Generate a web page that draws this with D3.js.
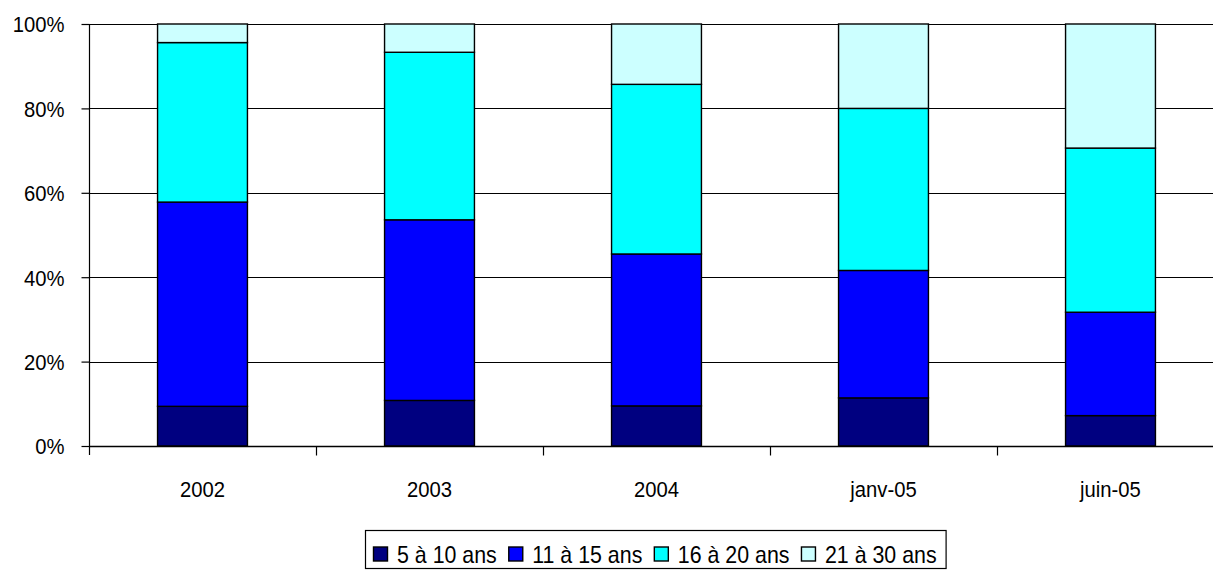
<!DOCTYPE html>
<html>
<head>
<meta charset="utf-8">
<script src="https://cdn.jsdelivr.net/npm/d3@7"></script>
<style>
  html, body { margin: 0; padding: 0; background: #fff; }
  svg { display: block; }
  text { font-family: "Liberation Sans Narrow", "Arial Narrow", "Liberation Sans", sans-serif; fill: #000; }
</style>
</head>
<body>
<svg id="chart" width="1213" height="571"></svg>
<script>
// Age bands of the fleet, share of each period (percent)
const categories = ["2002", "2003", "2004", "janv-05", "juin-05"];
const seriesNames = ["5 à 10 ans", "11 à 15 ans", "16 à 20 ans", "21 à 30 ans"];
const age5to10   = [9.4, 10.8, 9.5, 11.4, 7.2];
const age11to15  = [48.4, 42.8, 36.0, 30.2, 24.5];
const age16to20  = [37.8, 39.7, 40.2, 38.4, 38.9];
const age21to30  = [4.4, 6.7, 14.3, 20.0, 29.4];
const yTicks = [0, 20, 40, 60, 80, 100];
const colors = ["#000080", "#0000FF", "#00FFFF", "#CCFFFF"];

const seriesValues = [age5to10, age11to15, age16to20, age21to30];
const rows = categories.map((c, i) => {
  const r = { cat: c };
  seriesNames.forEach((s, k) => { r[s] = seriesValues[k][i]; });
  return r;
});

// squeeze text horizontally to get a narrow face; returns the final width
function narrow(sel, factor) {
  let last = 0;
  sel.each(function () {
    const w = this.getComputedTextLength();
    last = w * factor;
    d3.select(this).attr("textLength", last).attr("lengthAdjust", "spacingAndGlyphs");
  });
  return last;
}

const svg = d3.select("#chart");
const plotLeft = 89, plotTop = 24, plotBottom = 446, plotRight = 1224;

const x = d3.scaleBand().domain(categories).range([plotLeft, plotRight]).padding(0);
const y = d3.scaleLinear().domain([0, 100]).range([plotBottom, plotTop]);
const barW = x.bandwidth() * 0.396;

// horizontal gridlines
svg.append("g").selectAll("line").data(yTicks).join("line")
  .attr("x1", plotLeft).attr("x2", plotRight)
  .attr("y1", d => Math.round(y(d)) + 0.5).attr("y2", d => Math.round(y(d)) + 0.5)
  .attr("stroke", "#000").attr("stroke-width", 1);

// stacked bars
const stack = d3.stack().keys(seriesNames)(rows);
svg.append("g").selectAll("g").data(stack).join("g")
  .attr("fill", (d, i) => colors[i])
  .selectAll("rect").data(d => d).join("rect")
  .attr("x", d => x(d.data.cat) + (x.bandwidth() - barW) / 2)
  .attr("width", barW)
  .attr("y", d => y(d[1]))
  .attr("height", d => y(d[0]) - y(d[1]))
  .attr("stroke", "#000").attr("stroke-width", 1.4);

// y axis
const yAxis = d3.axisLeft(y).tickValues(yTicks).tickFormat(d => d + "%").tickSize(8).tickPadding(17);
const gy = svg.append("g").attr("transform", `translate(${plotLeft + 0.5},0)`).call(yAxis);
gy.select(".domain").attr("d", `M0,${plotTop}V${plotBottom + 9}`).attr("stroke", "#000").attr("stroke-width", 1.2);
gy.selectAll(".tick line").attr("stroke", "#000").attr("stroke-width", 1.2);
gy.selectAll("text").style("font-size", "22px").attr("font-family", null).attr("dy", "0.36em")
  .call(narrow, 0.92);

// x axis with ticks between categories
const gx = svg.append("g").attr("transform", `translate(0,${plotBottom + 0.5})`);
gx.append("line").attr("x1", plotLeft).attr("x2", plotRight).attr("stroke", "#000").attr("stroke-width", 1.4);
gx.selectAll("line.sep").data(categories.slice(1)).join("line").attr("class", "sep")
  .attr("x1", d => Math.round(x(d)) + 0.5).attr("x2", d => Math.round(x(d)) + 0.5)
  .attr("y1", 0).attr("y2", 9).attr("stroke", "#000").attr("stroke-width", 1.2);
gx.selectAll("text").data(categories).join("text")
  .attr("x", d => x(d) + x.bandwidth() / 2)
  .attr("y", 43)
  .attr("text-anchor", "middle")
  .attr("dy", "0.36em")
  .style("font-size", "22px")
  .text(d => d)
  .call(narrow, 0.92);

// legend
const lg = svg.append("g");
const lgBox = lg.append("rect").attr("fill", "#fff").attr("stroke", "#000").attr("stroke-width", 1.2);
let cx = 373.5;
const ly = 554;
seriesNames.forEach((s, i) => {
  lg.append("rect").attr("x", cx).attr("y", ly - 7).attr("width", 14).attr("height", 14)
    .attr("fill", colors[i]).attr("stroke", "#000").attr("stroke-width", 1.4);
  const t = lg.append("text").attr("x", cx + 23.5).attr("y", ly).attr("dy", "0.36em")
    .style("font-size", "24px").text(s);
  const w = narrow(t, 0.89);
  cx += 23.5 + w + 12;
});
lgBox.attr("x", 365.5).attr("y", 530.5).attr("width", cx - 365 - 3).attr("height", 38);
</script>
</body>
</html>
